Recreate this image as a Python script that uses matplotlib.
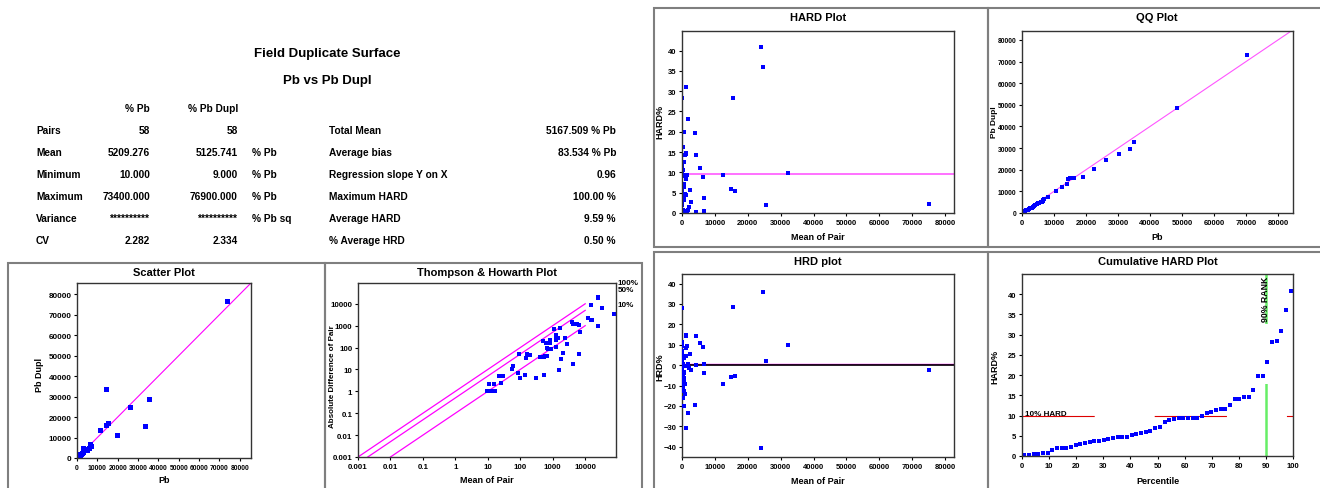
import numpy as np
import matplotlib
matplotlib.use('Agg')
import matplotlib.pyplot as plt
from matplotlib.patches import Rectangle
from matplotlib.ticker import NullLocator

plt.rcParams['font.family'] = ['Liberation Sans', 'DejaVu Sans']
plt.rcParams['font.weight'] = 'bold'

W, H = 1320, 489

# ---- duplicate pairs: mean of pair and half relative difference (%) ----
pair_mean = [4300, 1600, 6600, 530, 300, 1800, 2000, 25500, 100, 135,
             75200, 2800, 17, 650, 530, 580, 6800, 12.4, 83, 1220,
             400, 25, 900, 9.5, 16000, 2450, 15000, 700, 15, 650,
             1290, 6400, 28.8, 12600, 55, 1500, 850, 11, 32200, 205,
             5500, 22.5, 145, 60, 620, 4300, 800, 1220, 1300, 160,
             3900, 500, 1700, 90, 15400, 1100, 24500, 24000]
hrd_pct = [0.2, -0.3, 0.4, -0.5, 0.7, 0.8, -1.4, 1.9, -2.0, 2.1,
           -2.3, -2.6, 2.9, -3.3, 3.4, -3.6, -3.7, 4.0, -4.3, 4.5,
           -4.6, -4.6, 4.6, 5.3, -5.5, 5.7, -5.9, -6.3, 7.0, -7.2,
           8.3, 8.8, -9.1, -9.3, 9.3, 9.4, -9.4, 9.5, 9.8, -10.7,
           11.0, -11.3, 11.6, -11.7, -12.6, 14.2, -14.2, 14.5, 14.7, -16.3,
           -19.7, -19.9, -23.2, 28.2, 28.4, -31.0, 36.0, -40.8]

# quantile pairs for the QQ panel
qq_pb = [100, 200, 400, 700, 1000, 1400, 1800, 2200, 2600, 3000,
         3400, 3800, 4200, 4600, 5000, 5400, 5800, 6200, 6500, 6700,
         7000, 8000, 10600, 12600, 14000, 14300, 15000, 16400, 19100, 22600,
         26200, 30300, 33600, 34900, 48300, 70400]
qq_dupl = [80, 150, 350, 600, 900, 1200, 1500, 1800, 2100, 2300,
           2900, 3400, 3800, 4200, 4400, 4600, 4900, 5200, 5500, 5900,
           6400, 7600, 10000, 12000, 13500, 15600, 16000, 16200, 16600, 20200,
           24600, 27400, 29700, 32600, 48500, 72900]

# summary statistics
avg_hard = 9.59
avg_hrd = 0.50
hard_limit = 10
rank_pct = 90
th_levels = [1.0, 0.5, 0.1]
th_labels = ['100%', '50%', '10%']
log_ticks = [0.001, 0.01, 0.1, 1, 10, 100, 1000, 10000]
log_tick_labels = ['0.001', '0.01', '0.1', '1', '10', '100', '1000', '10000']

stat_rows = ['Pairs', 'Mean', 'Minimum', 'Maximum', 'Variance', 'CV']
stat_pb = ['58', '5209.276', '10.000', '73400.000', '**********', '2.282']
stat_dupl = ['58', '5125.741', '9.000', '76900.000', '**********', '2.334']
stat_unit = ['', '% Pb', '% Pb', '% Pb', '% Pb sq', '']
summary_names = ['Total Mean', 'Average bias', 'Regression slope Y on X',
                 'Maximum HARD', 'Average HARD', '% Average HRD']
summary_values = ['5167.509 % Pb', '83.534 % Pb', '0.96',
                  '100.00 %', f'{avg_hard:.2f} %', f'{avg_hrd:.2f} %']

# derived series
pair_mean = np.array(pair_mean)
hrd_pct = np.array(hrd_pct)
pb = pair_mean * (1 + hrd_pct / 100)
pb_dupl = pair_mean * (1 - hrd_pct / 100)
abs_diff = np.abs(pb - pb_dupl)
hard_pct = np.abs(hrd_pct)
hard_sorted = np.sort(hard_pct)
percentile = (np.arange(len(hard_sorted)) + 0.5) / len(hard_sorted) * 100

BLUE = '#0000ff'
MAGENTA = '#ff00ff'

fig = plt.figure(figsize=(W / 100, H / 100), dpi=100)


def fx(x):
    return x / W


def fy(y):
    return 1 - y / H


def txt(x, y, s, size, ha='center', va='center', **kw):
    fig.text(fx(x), fy(y), s, fontsize=size, fontweight='bold', ha=ha, va=va, **kw)


def box(x0, y0, x1, y1):
    fig.patches.append(Rectangle((fx(x0), fy(y1)), (x1 - x0) / W, (y1 - y0) / H,
                                 transform=fig.transFigure, fill=False,
                                 edgecolor='#7f7f7f', lw=1.5))


def panel(left, top, right, bottom, tick_size):
    ax = fig.add_axes([fx(left), fy(bottom), (right - left) / W, (bottom - top) / H])
    for sp in ax.spines.values():
        sp.set_linewidth(1.0)
        sp.set_color('#333333')
    ax.tick_params(direction='out', length=2.5, width=0.8, pad=1.5, labelsize=tick_size)
    return ax


# ---- statistics table ----
txt(327, 54, 'Field Duplicate Surface', 9.5)
txt(327, 81, 'Pb vs Pb Dupl', 9.5)
txt(150, 109, '% Pb', 7.3, ha='right')
txt(238, 109, '% Pb Dupl', 7.3, ha='right')
row_y = [131, 153, 175, 197, 219, 241]
for i, y in enumerate(row_y):
    txt(36, y, stat_rows[i], 7.3, ha='left')
    txt(150, y, stat_pb[i], 7.3, ha='right')
    txt(238, y, stat_dupl[i], 7.3, ha='right')
    txt(252, y, stat_unit[i], 7.3, ha='left')
    txt(329, y, summary_names[i], 7.3, ha='left')
    txt(616, y, summary_values[i], 7.3, ha='right')

# ---- panel frames ----
box(8, 264, 325, 495)
box(325, 264, 642, 495)
box(654, 9, 988, 248)
box(988, 9, 1325, 248)
box(654, 253, 988, 495)
box(988, 253, 1325, 495)

# ---- scatter plot ----
ax = panel(77, 284, 251, 459, 5.8)
ax.axline((0, 0), slope=1, color=MAGENTA, lw=0.8)
ax.plot(pb, pb_dupl, 's', color=BLUE, ms=3.6, mew=0)
ax.set_xlim(0, 85500)
ax.set_ylim(0, 85500)
ax.set_xticks(np.arange(0, 80001, 10000))
ax.set_yticks(np.arange(0, 80001, 10000))
ax.tick_params(axis='x', labelsize=4.9)
txt(164, 273, 'Scatter Plot', 8)
txt(164, 481, 'Pb', 6.5)
txt(40, 375, 'Pb Dupl', 6.5, rotation=90)

# ---- Thompson & Howarth plot ----
ax = panel(358, 284, 616, 458, 5.7)
ax.set_xscale('log')
ax.set_yscale('log')
for k in th_levels:
    xs = np.array([0.001 / k, 10000])
    ax.plot(xs, k * xs, color=MAGENTA, lw=0.9)
ax.plot(pair_mean, abs_diff, 's', color=BLUE, ms=3.4, mew=0)
ax.set_xlim(0.001, 89000)
ax.set_ylim(0.001, 89000)
ax.set_xticks(log_ticks)
ax.set_xticklabels(log_tick_labels)
ax.set_yticks(log_ticks)
ax.set_yticklabels(log_tick_labels)
ax.xaxis.set_minor_locator(NullLocator())
ax.yaxis.set_minor_locator(NullLocator())
for k, lab in zip(th_levels, th_labels):
    ax.text(1.005, k * 9e4, lab, transform=ax.get_yaxis_transform(),
            fontsize=5.8, ha='left', va='center', clip_on=False)
txt(487, 273, 'Thompson & Howarth Plot', 8)
txt(487, 481, 'Mean of Pair', 6.5)
txt(332, 377, 'Absolute Difference of Pair', 5.8, rotation=90)

# ---- HARD plot ----
ax = panel(682, 32, 954, 214, 5.5)
ax.axhline(avg_hard, color='#ff66ff', lw=1.3)
ax.plot(pair_mean, hard_pct, 's', color=BLUE, ms=2.7, mew=0)
ax.set_xlim(0, 82700)
ax.set_ylim(0, 44.8)
ax.set_xticks(np.arange(0, 80001, 10000))
ax.set_yticks(np.arange(0, 41, 5))
txt(818, 18, 'HARD Plot', 8)
txt(818, 238, 'Mean of Pair', 6.5)
txt(660, 122, 'HARD%', 6.5, rotation=90)

# ---- QQ plot ----
ax = panel(1022, 32, 1293, 214, 5.5)
ax.axline((0, 0), slope=1, color='#ff55ff', lw=0.8)
ax.plot(qq_pb, qq_dupl, 's', color=BLUE, ms=2.7, mew=0)
ax.set_xlim(0, 84700)
ax.set_ylim(0, 84150)
ax.set_xticks(np.arange(0, 80001, 10000))
ax.set_yticks(np.arange(0, 80001, 10000))
ax.tick_params(axis='y', labelsize=4.8)
txt(1157, 18, 'QQ Plot', 8)
txt(1157, 238, 'Pb', 6.5)
txt(994, 122, 'Pb Dupl', 6, rotation=90)

# ---- HRD plot ----
ax = panel(682, 275, 954, 458, 5.5)
ax.axhline(avg_hrd, color=MAGENTA, lw=1.0, zorder=2)
ax.axhline(0, color='black', lw=1.2, zorder=2.1)
ax.plot(pair_mean, hrd_pct, 's', color=BLUE, ms=2.7, mew=0, zorder=3)
ax.set_xlim(0, 82700)
ax.set_ylim(-45, 44.7)
ax.set_xticks(np.arange(0, 80001, 10000))
ax.set_yticks(np.arange(-40, 41, 10))
txt(818, 262, 'HRD plot', 8)
txt(818, 482, 'Mean of Pair', 6.5)
txt(660, 367, 'HRD%', 6.5, rotation=90)

# ---- cumulative HARD plot ----
ax = panel(1022, 275, 1293, 457, 5.5)
ax.axhline(hard_limit, color='#dd0000', lw=0.8, dashes=(65, 54))
ax.axvline(rank_pct, color='#66ee66', lw=1.8, dashes=(29, 24))
ax.plot(percentile, hard_sorted, 's', color=BLUE, ms=2.7, mew=0)
ax.text(1.2, hard_limit + 0.4, f'{hard_limit}% HARD', fontsize=5.8, ha='left', va='center')
ax.text(rank_pct, 44.5, f'{rank_pct}% RANK', fontsize=6.3, ha='center', va='top', rotation=90)
ax.set_xlim(0, 100)
ax.set_ylim(0, 45)
ax.set_xticks(np.arange(0, 101, 10))
ax.set_yticks(np.arange(0, 41, 5))
txt(1158, 262, 'Cumulative HARD Plot', 8)
txt(1158, 482, 'Percentile', 6.5)
txt(995, 367, 'HARD%', 6.5, rotation=90)

fig.savefig('out.png', dpi=100)
